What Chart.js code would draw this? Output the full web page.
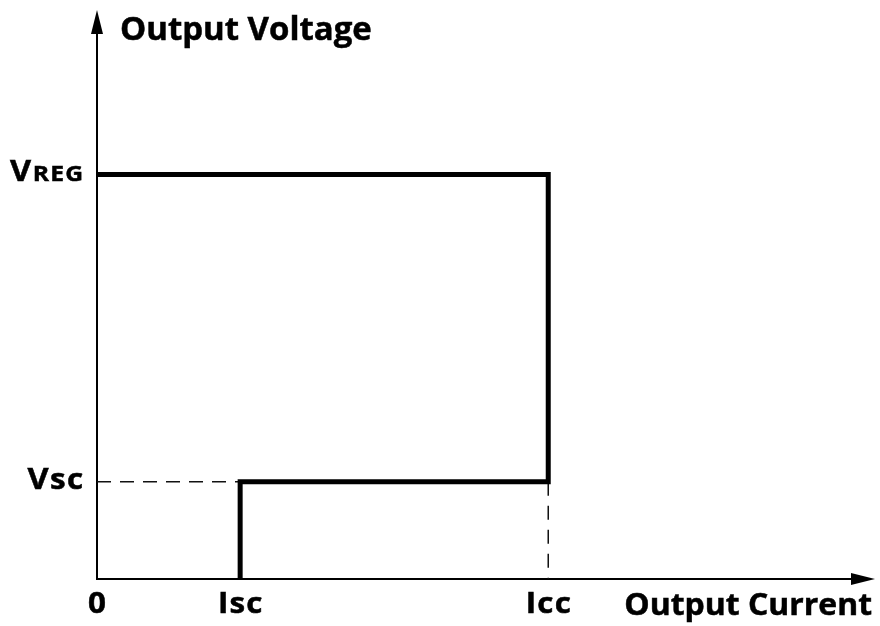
<!DOCTYPE html>
<html>
<head>
<meta charset="utf-8">
<script src="https://cdn.jsdelivr.net/npm/chart.js@4.4.1/dist/chart.umd.min.js"></script>
<style>
  html, body { margin: 0; padding: 0; background: #fff; }
  #wrap { width: 880px; height: 626px; position: relative; }
</style>
</head>
<body>
<div id="wrap"><canvas id="c"></canvas></div>
<script>
// ---- data (axis units) ----
const xMaxValue = 100;            // arrow tip of current axis
const yMaxValue = 100;            // arrow tip of voltage axis
const Isc = 18.4;
const Icc = 58.0;
const Vsc = 17.1;
const Vreg = 71.1;

const curveX = [0, Icc, Icc, Isc, Isc];
const curveY = [Vreg, Vreg, Vsc, Vsc, 0];
const dashHX = [0, Isc];
const dashHY = [Vsc, Vsc];
const dashVX = [Icc, Icc];
const dashVY = [Vsc, 0];

const xTickValues = [0, Isc, Icc];
const xTickLabels = ['0', 'Isc', 'Icc'];
const yTickValues = [Vreg, Vsc];
const yTickMain = ['V', 'V'];
const yTickSub = ['REG', 'sc'];
const xAxisTitle = 'Output Current';
const yAxisTitle = 'Output Voltage';

const toPts = (xs, ys) => xs.map((x, i) => ({ x: x, y: ys[i] }));

const FONT = '"Open Sans", "DejaVu Sans", sans-serif';

// measure text with letter spacing and horizontal glyph scale
function textWidth(ctx, text, font, spacing, sx) {
  ctx.font = font;
  const chars = Array.from(text);
  return chars.reduce((s, c) => s + ctx.measureText(c).width * sx, 0) + spacing * (chars.length - 1);
}
// draw text; align: 'left' | 'center' | 'right'
function drawText(ctx, text, x, y, font, spacing, sx, align) {
  ctx.font = font;
  const chars = Array.from(text);
  const total = textWidth(ctx, text, font, spacing, sx);
  let cx = align === 'center' ? x - total / 2 : align === 'right' ? x - total : x;
  ctx.textAlign = 'left';
  chars.forEach(c => {
    const w = ctx.measureText(c).width * sx;
    ctx.save();
    ctx.translate(cx, y);
    ctx.scale(sx, 1);
    ctx.fillText(c, 0, 0);
    ctx.lineWidth = 0.5;
    ctx.strokeStyle = '#000';
    ctx.strokeText(c, 0, 0);
    ctx.restore();
    cx += w + spacing;
  });
  return total;
}

const axesPlugin = {
  id: 'axesPlugin',
  beforeDatasetsDraw(chart) {
    const { ctx } = chart;
    const xs = chart.scales.x, ys = chart.scales.y;
    const x0 = xs.getPixelForValue(0), y0 = ys.getPixelForValue(0);
    const xTip = xs.getPixelForValue(xMaxValue), yTip = ys.getPixelForValue(yMaxValue);
    ctx.save();
    ctx.strokeStyle = '#000';
    ctx.fillStyle = '#000';
    ctx.lineWidth = 2;
    // y axis
    ctx.beginPath(); ctx.moveTo(x0, y0 + 1); ctx.lineTo(x0, yTip + 12); ctx.stroke();
    ctx.beginPath();
    ctx.moveTo(x0, yTip); ctx.lineTo(x0 - 6, yTip + 24); ctx.lineTo(x0 + 6, yTip + 24); ctx.closePath(); ctx.fill();
    // x axis
    ctx.beginPath(); ctx.moveTo(x0 - 1, y0); ctx.lineTo(xTip - 12, y0); ctx.stroke();
    ctx.beginPath();
    ctx.moveTo(xTip, y0); ctx.lineTo(xTip - 24, y0 - 6); ctx.lineTo(xTip - 24, y0 + 6); ctx.closePath(); ctx.fill();
    ctx.restore();
  },
  afterDraw(chart) {
    const { ctx } = chart;
    const xs = chart.scales.x, ys = chart.scales.y;
    const x0 = xs.getPixelForValue(0), y0 = ys.getPixelForValue(0);
    ctx.save();
    ctx.fillStyle = '#000';
    ctx.textBaseline = 'alphabetic';
    // x tick labels
    xTickValues.forEach((v, i) => {
      drawText(ctx, xTickLabels[i], xs.getPixelForValue(v), y0 + 34, 'bold 28px ' + FONT, 1.2, 1.12, 'center');
    });
    // y tick labels (main letter + second part), right aligned
    const subFonts = ['bold 22px ' + FONT, 'bold 28px ' + FONT];
    yTickValues.forEach((v, i) => {
      const py = ys.getPixelForValue(v) + 7;
      const right = x0 - 14;
      const wSub = textWidth(ctx, yTickSub[i], subFonts[i], 1.2, 1.12);
      drawText(ctx, yTickSub[i], right - wSub, py, subFonts[i], 1.2, 1.12, 'left');
      drawText(ctx, yTickMain[i], right - wSub - 1.5, py, 'bold 29px ' + FONT, 0, 1.12, 'right');
    });
    // axis titles
    drawText(ctx, xAxisTitle, xs.getPixelForValue(xMaxValue) - 3, y0 + 36, 'bold 31px ' + FONT, 0, 1.03, 'right');
    drawText(ctx, yAxisTitle, x0 + 23, ys.getPixelForValue(yMaxValue) + 30, 'bold 32px ' + FONT, 0, 1.03, 'left');
    ctx.restore();
  }
};

new Chart(document.getElementById('c'), {
  type: 'scatter',
  data: {
    datasets: [
      { data: toPts(curveX, curveY), showLine: true, borderColor: '#000', borderWidth: 5,
        pointRadius: 0, borderJoinStyle: 'miter', borderCapStyle: 'butt', tension: 0 },
      { data: toPts(dashHX, dashHY), showLine: true, borderColor: '#111', borderWidth: 1.5,
        borderDash: [14, 9], pointRadius: 0 },
      { data: toPts(dashVX, dashVY), showLine: true, borderColor: '#111', borderWidth: 1.5,
        borderDash: [14, 10], pointRadius: 0 }
    ]
  },
  options: {
    responsive: true,
    maintainAspectRatio: false,
    animation: false,
    events: [],
    layout: { padding: { left: 97, top: 10, right: 5, bottom: 47 } },
    plugins: { legend: { display: false }, tooltip: { enabled: false } },
    scales: {
      x: { type: 'linear', display: false, min: 0, max: xMaxValue },
      y: { type: 'linear', display: false, min: 0, max: yMaxValue }
    }
  },
  plugins: [axesPlugin]
});
</script>
</body>
</html>
